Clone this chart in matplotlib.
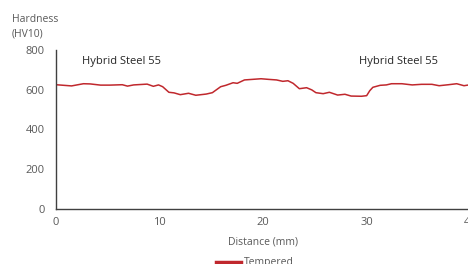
import matplotlib.pyplot as plt

# Hardness profile
distance = [0.0, 1.5, 2.65, 3.3, 4.3, 5.2, 6.4, 6.9, 7.5, 8.8, 9.4, 9.9,
            10.3, 10.9, 11.4, 12.0, 12.8, 13.5, 14.5, 15.1, 15.9, 16.4,
            17.1, 17.5, 18.2, 19.0, 19.8, 20.5, 21.3, 21.9, 22.4, 22.9,
            23.5, 24.2, 24.7, 25.1, 25.8, 26.4, 27.2, 27.9, 28.5, 29.5,
            30.0, 30.3, 30.6, 31.3, 31.9, 32.4, 33.4, 34.4, 35.3, 36.3,
            37.0, 37.9, 38.7, 39.4, 40.0]
hardness = [625, 619, 630, 629, 623, 623, 625, 618, 624, 628, 617, 624,
            615, 587, 584, 575, 582, 572, 578, 585, 615, 622,
            635, 632, 649, 652, 655, 652, 649, 642, 645, 632,
            605, 610, 599, 585, 580, 587, 573, 577, 568, 567,
            570, 595, 612, 622, 624, 630, 630, 624, 627, 627,
            620, 625, 630, 620, 625]

x_ticks = [0, 10, 20, 30, 40]
y_ticks = [0, 200, 400, 600, 800]

plt.rcParams['font.family'] = ['Open Sans', 'DejaVu Sans']
gray = '#595959'

fig = plt.figure(figsize=(4.68, 2.64), dpi=100)
ax = fig.add_axes([0.1197, 0.208, 0.885, 0.603])

ax.plot(distance, hardness, color='#c0282d', linewidth=1.1, label='Tempered')

ax.set_xlim(0, 40)
ax.set_ylim(0, 800)
ax.set_xticks(x_ticks)
ax.set_yticks(y_ticks)
ax.tick_params(length=0, labelsize=8, colors=gray, pad=6)
ax.tick_params(axis='y', pad=8)
for s in ['top', 'right']:
    ax.spines[s].set_visible(False)
for s in ['left', 'bottom']:
    ax.spines[s].set_color('#404040')
    ax.spines[s].set_linewidth(1.0)

ax.text(2.5, 740, 'Hybrid Steel 55', fontsize=8, color='#262626', va='center')
ax.text(29.3, 740, 'Hybrid Steel 55', fontsize=8, color='#262626', va='center')

fig.text(12 / 468, 1 - 27 / 264, 'Hardness\n(HV10)', fontsize=7.5, color=gray,
         va='center', ha='left', linespacing=1.5)
ax.set_xlabel('Distance (mm)', fontsize=7.5, color=gray, labelpad=6)

leg = fig.legend(loc='upper center', bbox_to_anchor=(0.545, 0.045), frameon=False,
                 fontsize=7.5, labelcolor=gray, handlelength=2.4, handletextpad=0.3,
                 borderpad=0)
for h in leg.get_lines():
    h.set_linewidth(2.5)

fig.savefig('out.png', dpi=100)
